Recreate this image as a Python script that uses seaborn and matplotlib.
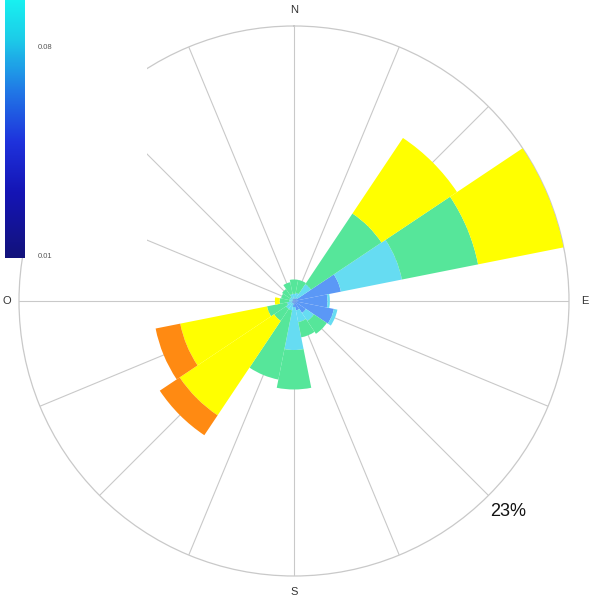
import numpy as np
import seaborn as sns
import matplotlib.pyplot as plt
from matplotlib.colors import LinearSegmentedColormap, Normalize
from matplotlib.cm import ScalarMappable

# ---- data (frequency %, per direction, per speed class) ----
directions = ['N', 'NNE', 'NE', 'ENE', 'E', 'ESE', 'SE', 'SSE',
              'S', 'SSW', 'SW', 'WSW', 'W', 'WNW', 'NW', 'NNW']
speed_classes = ['c1', 'c2', 'c3', 'c4', 'c5']

c1_blue = [0.2, 0.2, 0.3, 4.0, 2.8, 3.4, 1.2, 0.8, 0.5, 0.2, 0.2, 0.2, 0.1, 0.1, 0.1, 0.2]
c2_cyan = [0.4, 0.5, 1.4, 5.2, 0.2, 0.3, 0.8, 1.0, 3.6, 0.6, 0.6, 0.4, 0.3, 0.3, 0.3, 0.4]
c3_green = [1.2, 1.1, 7.1, 6.5, 0.0, 0.0, 1.3, 1.3, 3.3, 5.9, 1.2, 1.7, 0.8, 0.7, 0.8, 1.0]
c4_yellow = [0.0, 0.0, 7.6, 7.3, 0.0, 0.0, 0.0, 0.0, 0.0, 0.0, 9.5, 7.4, 0.4, 0.0, 0.0, 0.0]
c5_orange = [0.0, 0.0, 0.0, 0.0, 0.0, 0.0, 0.0, 0.0, 0.0, 0.0, 2.0, 2.1, 0.0, 0.0, 0.0, 0.0]

r_max = 23
cardinal_labels = ['N', 'E', 'S', 'O']
cbar_ticks = [0.01, 0.08]

# ---- style ----
sns.set_theme(style="white")
plt.rcParams['font.family'] = ['Liberation Sans', 'DejaVu Sans']
palette = sns.color_palette(["#5b98f6", "#66dcf2", "#56e69a", "#ffff00", "#ff8a12"])

fig = plt.figure(figsize=(5.9, 6.02), dpi=100)
ax = fig.add_axes([19 / 590, 26 / 602, 550 / 590, 550 / 602], projection='polar')
ax.set_theta_zero_location('N')
ax.set_theta_direction(-1)

theta = np.deg2rad(np.arange(16) * 22.5)
width = 2 * np.pi / 16
bottom = np.zeros(16)
for vals, col in zip([c1_blue, c2_cyan, c3_green, c4_yellow, c5_orange], palette):
    vals = np.array(vals)
    ax.bar(theta, vals, width=width, bottom=bottom, color=col,
           edgecolor='none', linewidth=0, align='center', zorder=3)
    bottom += vals

ax.set_ylim(0, r_max)
ax.set_yticks([])
ax.set_xticks(theta)
ax.set_xticklabels([])
ax.xaxis.grid(True, color='#c9c9c9', linewidth=0.8)
ax.spines['polar'].set_color('#c9c9c9')
ax.spines['polar'].set_linewidth(0.9)
ax.set_facecolor('white')

# cardinal labels
for ang, lab, rr in zip([0, 90, 180, 270], cardinal_labels, [24.35, 24.35, 24.35, 24.0]):
    ax.text(np.deg2rad(ang), rr, lab, ha='center', va='center',
            fontsize=8, color='#333333', clip_on=False)
ax.text(np.deg2rad(134.6), 25.1, f'{r_max}%', ha='center', va='center',
        fontsize=13, color='#111111', clip_on=False)

# white box holding the colour bar (covers part of the rose)
box = fig.add_axes([0, 1 - 258 / 602, 147 / 590, 258 / 602])
box.set_facecolor('white')
box.set_xticks([])
box.set_yticks([])
for s in box.spines.values():
    s.set_visible(False)

cmap = LinearSegmentedColormap.from_list(
    'cb', [(0.0, '#12127a'), (0.25, '#1414b4'), (0.45, '#1e32dc'),
           (0.65, '#2078e6'), (0.85, '#1ccce8'), (1.0, '#18f0f0')])
cax = fig.add_axes([5 / 590, 1 - 258 / 602, 20 / 590, 258 / 602])
sm = ScalarMappable(norm=Normalize(0.009, 0.0958), cmap=cmap)
cb = fig.colorbar(sm, cax=cax, ticks=cbar_ticks)
cb.outline.set_visible(False)
cb.ax.set_yticklabels(['%.2f' % t for t in cbar_ticks])
cb.ax.tick_params(length=0, labelsize=5.5, labelcolor='#555555', pad=9)

plt.savefig('out.png', dpi=100)
